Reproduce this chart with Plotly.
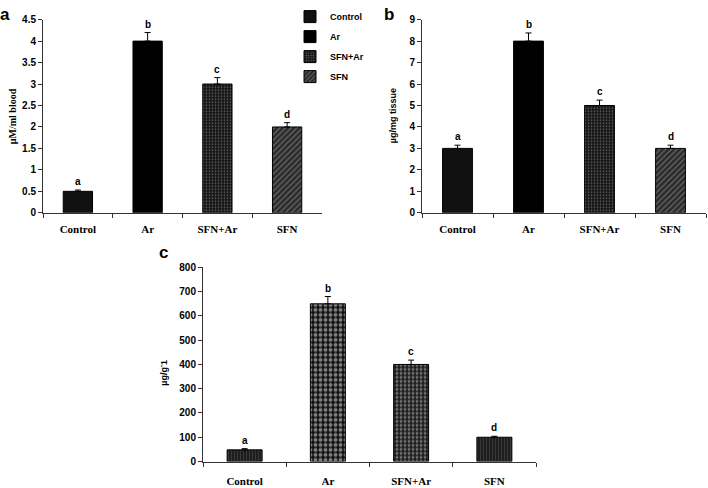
import plotly.graph_objects as go

categories = ["Control", "Ar", "SFN+Ar", "SFN"]
letters = ["a", "b", "c", "d"]

values_a = [0.5, 4.0, 3.0, 2.0]
err_a = [0.03, 0.2, 0.15, 0.1]
ticks_a = [0, 0.5, 1, 1.5, 2, 2.5, 3, 3.5, 4, 4.5]

values_b = [3.0, 8.0, 5.0, 3.0]
err_b = [0.15, 0.38, 0.25, 0.15]
ticks_b = [0, 1, 2, 3, 4, 5, 6, 7, 8, 9]

values_c = [48, 650, 400, 100]
err_c = [5, 30, 18, 4]
ticks_c = [0, 100, 200, 300, 400, 500, 600, 700, 800]

W, H = 708, 488
SANS = "Liberation Sans"
SERIF = "Liberation Serif"

def px(x):
    return x / W

def py(y):
    return 1 - y / H

pat_ab = [
    dict(color="#111111", pattern=dict(shape="")),
    dict(color="#000000", pattern=dict(shape="")),
    dict(color="#151515", pattern=dict(shape=".", fillmode="overlay", fgcolor="#bbbbbb", size=3, solidity=0.25)),
    dict(color="#2a2a2a", pattern=dict(shape="/", fillmode="overlay", fgcolor="#a8a8a8", size=4, solidity=0.3)),
]
pat_c = [
    dict(color="#1a1a1a", pattern=dict(shape="|", fillmode="overlay", fgcolor="#555555", size=3, solidity=0.4)),
    dict(color="#111111", pattern=dict(shape=".", fillmode="overlay", fgcolor="#eeeeee", size=5, solidity=0.45)),
    dict(color="#1a1a1a", pattern=dict(shape=".", fillmode="overlay", fgcolor="#cfcfcf", size=4, solidity=0.4)),
    dict(color="#1a1a1a", pattern=dict(shape="|", fillmode="overlay", fgcolor="#555555", size=3, solidity=0.4)),
]

fig = go.Figure()

panels = [
    ("x", "y", values_a, err_a, pat_ab, True),
    ("x2", "y2", values_b, err_b, pat_ab, False),
    ("x3", "y3", values_c, err_c, pat_c, False),
]

for xa, ya, vals, errs, pats, show in panels:
    for i, cat in enumerate(categories):
        fig.add_trace(go.Bar(
            x=[cat], y=[vals[i]], name=cat, xaxis=xa, yaxis=ya,
            width=0.42, showlegend=show, legendgroup=cat,
            marker=dict(color=pats[i]["color"], pattern=pats[i]["pattern"],
                        line=dict(color="#000000", width=1)),
            error_y=dict(type="data", array=[errs[i]], arrayminus=[0], symmetric=False,
                         color="#000000", thickness=1, width=3),
        ))
        fig.add_annotation(
            x=cat, y=vals[i] + errs[i], xref=xa, yref=ya, text=letters[i],
            showarrow=False, xanchor="center", yanchor="bottom", yshift=1,
            font=dict(family=SANS, size=10, color="#000000", weight="bold"),
        )

def yax(domain, rng, ticks, anchor):
    return dict(domain=domain, range=rng, tickvals=ticks, anchor=anchor, showline=True,
                linecolor="#333", linewidth=1, ticks="outside", ticklen=4, tickcolor="#333",
                showgrid=False, zeroline=False,
                tickfont=dict(family=SANS, size=10, color="#000", weight="bold"))

def xax(domain, anchor, standoff=6):
    return dict(domain=domain, anchor=anchor, showline=True, linecolor="#333", linewidth=1,
                ticks="outside", ticklen=4, tickcolor="#333", tickson="boundaries",
                ticklabelstandoff=standoff,
                showgrid=False, categoryorder="array", categoryarray=categories,
                tickfont=dict(family=SERIF, size=11, color="#000", weight="bold"))

fig.update_layout(
    width=W, height=H,
    margin=dict(l=0, r=0, t=0, b=0),
    paper_bgcolor="white", plot_bgcolor="white",
    barmode="overlay",
    xaxis=xax([px(43), px(322)], "y"),
    yaxis=yax([py(212), py(14)], [0, 4.5], ticks_a, "x"),
    xaxis2=xax([px(422), px(706)], "y2"),
    yaxis2=yax([py(212), py(14)], [0, 9], ticks_b, "x2"),
    xaxis3=xax([px(203), px(536)], "y3", standoff=9),
    yaxis3=yax([py(467), py(268)], [0, 800], ticks_c, "x3"),
    legend=dict(x=px(290), y=py(-4), xanchor="left", yanchor="top",
                font=dict(family=SANS, size=9, color="#000", weight="bold"),
                bgcolor="rgba(0,0,0,0)", itemwidth=30, tracegroupgap=1),
)

fig.add_annotation(x=px(12), y=py(113), xref="paper", yref="paper", text="µM/ml blood",
                   textangle=-90, showarrow=False, xanchor="center", yanchor="middle",
                   font=dict(family=SERIF, size=10, color="#000", weight="bold"))
fig.add_annotation(x=px(393), y=py(113), xref="paper", yref="paper", text="µg/mg tissue",
                   textangle=-90, showarrow=False, xanchor="center", yanchor="middle",
                   font=dict(family=SANS, size=9, color="#000", weight="bold"))
fig.add_annotation(x=px(163), y=py(376), xref="paper", yref="paper", text="µg/g<sup>-</sup>1",
                   textangle=-90, showarrow=False, xanchor="center", yanchor="middle",
                   font=dict(family=SANS, size=9, color="#000", weight="bold"))
for lab, x, y in [("a", 5, 9), ("b", 389, 9), ("c", 163, 253)]:
    fig.add_annotation(x=px(x), y=py(y), xref="paper", yref="paper", text=lab,
                       showarrow=False, xanchor="center", yanchor="middle",
                       font=dict(family=SANS, size=17, color="#000", weight="bold"))

fig.write_html("out.html", config={"displayModeBar": False},
               post_script="document.body.style.margin='0';document.body.style.overflow='hidden';")
